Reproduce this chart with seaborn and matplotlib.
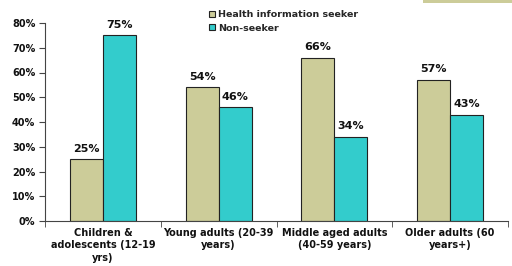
import matplotlib
matplotlib.use("Agg")
import matplotlib.pyplot as plt
import seaborn as sns
import pandas as pd
from matplotlib.patches import Rectangle, Patch

categories = ["Children &\nadolescents (12-19\nyrs)", "Young adults (20-39\nyears)",
              "Middle aged adults\n(40-59 years)", "Older adults (60\nyears+)"]
seeker = [25, 54, 66, 57]
non_seeker = [75, 46, 34, 43]
series = ["Health information seeker", "Non-seeker"]
colors = ["#CCCC99", "#33CCCC"]

df = pd.DataFrame({
    "cat": categories * 2,
    "val": seeker + non_seeker,
    "series": [series[0]] * 4 + [series[1]] * 4,
})

sns.set_style("white")
plt.rcParams["font.family"] = ["DejaVu Sans"]
plt.rcParams["font.weight"] = "bold"

fig = plt.figure(figsize=(5.12, 2.66), dpi=100)
ax = fig.add_axes([45/512, 1 - 221/266, (508-45)/512, (221-23)/266])

sns.barplot(data=df, x="cat", y="val", hue="series", palette=colors, ax=ax,
            width=0.57, edgecolor="#222222", linewidth=0.8, legend=False, saturation=1)

for cont in ax.containers:
    ax.bar_label(cont, labels=[f"{v:.0f}%" for v in cont.datavalues], padding=4,
                 fontsize=8, fontweight="bold", color="#111111")

ax.set_ylim(0, 80)
ax.set_xlim(-0.5, 3.5)
ax.set_yticks(range(0, 81, 10))
ax.set_yticklabels([f"{v}%" for v in range(0, 81, 10)], fontsize=7, fontweight="bold",
                   color="#111111")
ax.set_xticks([0, 1, 2, 3])
ax.set_xticklabels(categories, fontsize=7, fontweight="bold", color="#111111",
                   linespacing=1.3)
ax.set_xticks([-0.5, 0.5, 1.5, 2.5, 3.5], minor=True)
ax.tick_params(axis="x", which="major", length=0, pad=5)
ax.tick_params(axis="x", which="minor", length=4, direction="out", color="#444444", bottom=True)
ax.tick_params(axis="y", length=4, direction="out", color="#444444", left=True, pad=3)
ax.set_xlabel("")
ax.set_ylabel("")
for s in ["top", "right"]:
    ax.spines[s].set_visible(False)
for s in ["left", "bottom"]:
    ax.spines[s].set_color("#444444")
    ax.spines[s].set_linewidth(0.8)

handles = [Patch(facecolor=c, edgecolor="#222222", linewidth=0.8) for c in colors]
fig.legend(handles, series, loc="upper left", bbox_to_anchor=(209/512, 1 - 10/266),
           frameon=False, handlelength=0.6, handleheight=0.6,
           handletextpad=0.35, labelspacing=0.5, borderaxespad=0, borderpad=0,
           prop={"weight": "bold", "size": 6.8})

fig.patches.append(Rectangle((423/512, 1 - 3/266), 89/512, 3/266, transform=fig.transFigure,
                             facecolor="#CCCC99", edgecolor="none"))

fig.savefig("out.png", dpi=100)
